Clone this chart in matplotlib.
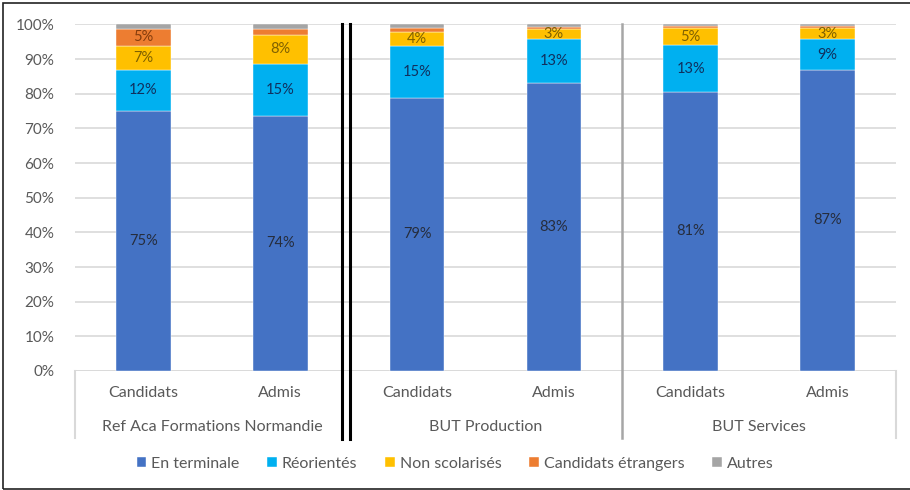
import matplotlib.pyplot as plt
import matplotlib.transforms as mtransforms
from matplotlib.patches import Rectangle
import numpy as np

plt.rcParams['font.family'] = ['Lato', 'DejaVu Sans']

# categories
groups = ["Ref Aca Formations Normandie", "BUT Production", "BUT Services"]
subcats = ["Candidats", "Admis"] * 3

series = ["En terminale", "Réorientés", "Non scolarisés", "Candidats étrangers", "Autres"]
en_terminale = [75.0, 73.6, 78.8, 83.2, 80.6, 86.9]
reorientes = [12.0, 15.0, 14.9, 12.6, 13.4, 8.8]
non_scolarises = [6.7, 8.4, 4.1, 2.9, 4.9, 3.4]
etrangers = [5.1, 1.6, 1.2, 0.7, 0.6, 0.4]
autres = [1.2, 1.4, 1.0, 0.6, 0.5, 0.5]

colors = ['#4472C4', '#00B0F0', '#FFC000', '#ED7D31', '#A5A5A5']
label_colors = ['#262d3d', '#10305e', '#7f6000', '#843c0c', '#404040']

fig = plt.figure(figsize=(9.1, 4.9), dpi=100)
ax = fig.add_axes([75 / 910, 1 - 371 / 490, (896 - 75) / 910, (371 - 24.5) / 490])

x = np.arange(len(subcats))
data = [en_terminale, reorientes, non_scolarises, etrangers, autres]
bottom = np.zeros(len(subcats))
for i, (name, vals) in enumerate(zip(series, data)):
    vals = np.array(vals)
    ax.bar(x, vals, bottom=bottom, width=0.4, color=colors[i], label=name,
           edgecolor='white', linewidth=0.3, zorder=3)
    if name != "Autres":
        for xi, v, b in zip(x, vals, bottom):
            if v >= 2.5:
                ax.text(xi, b + v / 2, f"{v:.0f}%", ha='center', va='center',
                        fontsize=10.5, color=label_colors[i], zorder=4)
    bottom += vals

ax.set_xlim(-0.5, 5.5)
ax.set_ylim(0, 100)
ax.set_yticks(np.arange(0, 101, 10))
ax.set_yticklabels([f"{v}%" for v in range(0, 101, 10)])
ax.tick_params(axis='y', length=0, pad=15, labelsize=11, labelcolor='#595959')
ax.set_xticks([])
ax.yaxis.grid(True, color='#d9d9d9', linewidth=1.2, zorder=0)
for s in ax.spines.values():
    s.set_visible(False)
ax.axhline(0, color='#d9d9d9', linewidth=1.2, zorder=2)

trans = mtransforms.blended_transform_factory(ax.transData, ax.transAxes)
# axes-fraction for the bottom of the category area (y=438 px)
y_cat_bottom = -(438 - 371) / (371 - 24.5)
y_sub = -(393 - 371) / (371 - 24.5)
y_grp = -(427 - 371) / (371 - 24.5)

for xi, lab in zip(x, subcats):
    ax.text(xi, y_sub, lab, transform=trans, ha='center', va='center',
            fontsize=11.5, color='#595959')
for gi, g in enumerate(groups):
    ax.text(2 * gi + 0.5, y_grp, g, transform=trans, ha='center', va='center',
            fontsize=11.5, color='#595959')

# category separators
for xs in [-0.5, 5.5]:
    ax.plot([xs, xs], [0, y_cat_bottom], transform=trans, color='#d9d9d9',
            linewidth=1.5, clip_on=False)
ax.plot([3.5, 3.5], [1.0, y_cat_bottom], transform=trans, color='#a6a6a6',
        linewidth=1.8, clip_on=False, zorder=5)
for xs in [1.452, 1.508]:
    ax.plot([xs, xs], [1.0, y_cat_bottom - 0.003], transform=trans, color='black',
            linewidth=2.2, clip_on=False, zorder=5)

fig.legend(loc='center', bbox_to_anchor=(0.5, 1 - 464 / 490), ncol=5, frameon=False,
           fontsize=11.5, handlelength=0.6, handleheight=0.6, handletextpad=0.3,
           columnspacing=1.75, labelcolor='#595959')

# outer frame
fig.patches.append(Rectangle((3 / 910, 1 / 490), 1.0, 1 - 4 / 490, transform=fig.transFigure,
                             fill=False, edgecolor='#222222', linewidth=1.2))

fig.savefig('out.png', dpi=100)
